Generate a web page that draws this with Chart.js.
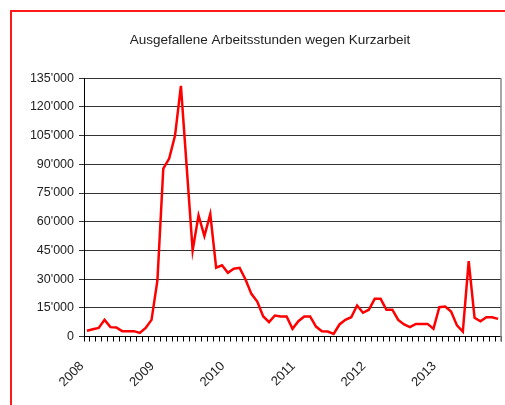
<!DOCTYPE html>
<html>
<head>
<meta charset="utf-8">
<script src="https://cdn.jsdelivr.net/npm/chart.js@4"></script>
<style>
  body { margin: 0; background: #fff; }
  #frame { position: absolute; left: 10px; top: 10px; width: 520px; height: 420px;
           border-left: 2px solid #ff1a1a; border-top: 2px solid #ff1a1a; }
  #kurz { position: absolute; left: 0; top: 0; }
</style>
</head>
<body>
<div id="frame"></div>
<canvas id="kurz" width="505" height="405"></canvas>
<script>
// Ausgefallene Arbeitsstunden, monatlich ab Jan 2008
const years = ['2008', '2009', '2010', '2011', '2012', '2013'];
const yTicks = [0, 15000, 30000, 45000, 60000, 75000, 90000, 105000, 120000, 135000];
const stunden = [
    3000, 3800, 4500, 8700, 4900, 4700, 2800, 2800, 2800, 1900, 4500, 8700,
    29300, 87700, 93000, 105000, 131000, 88000, 45000, 63300, 52500, 64000, 36000, 37200,
    33300, 35400, 35900, 29800, 22300, 18300, 10600, 7500, 11000, 10500, 10500, 4000,
    8000, 10500, 10500, 5200, 2800, 2600, 1400, 6300, 8700, 10100, 16200, 12400,
    14000, 19700, 19700, 14000, 14000, 8700, 6300, 4900, 6600, 6600, 6600, 4000,
    15300, 15700, 13100, 5800, 2600, 39400, 9800, 8000, 10100, 10100, 9200
];

var monate = [];
for (let i = 0; i < stunden.length; i++) {
    monate.push(years[Math.floor(i / 12)] + '-' + (i % 12 + 1));
}

function apostroph(n) { // 135000 -> 135'000
    return n.toString().replace(/(\d)(?=(\d{3})+$)/g, "$1'");
}

const rightBorder = {
    id: 'rightBorder',
    afterDraw(chart) {
        const a = chart.chartArea;
        const c = chart.ctx;
        c.save();
        c.strokeStyle = '#888';
        c.lineWidth = 1.5;
        c.beginPath();
        c.moveTo(a.right, a.top);
        c.lineTo(a.right, a.bottom + 5);
        c.stroke();
        c.restore();
    }
};

Chart.defaults.font.family = "'Liberation Sans', Arial, sans-serif";
Chart.defaults.color = '#222';

var ctx = document.getElementById('kurz').getContext('2d');
var kurzChart = new Chart(ctx, {
    type: 'line',
    data: {
        labels: monate,
        datasets: [{
            data: stunden,
            borderColor: '#ff0000',
            borderWidth: 2.5,
            pointRadius: 0,
            tension: 0,
            fill: false
        }]
    },
    options: {
        responsive: false,
        devicePixelRatio: 1,
        animation: false,
        // rechts negativ, damit der Titel wie im Original etwas weiter rechts sitzt
        layout: { padding: { left: 30, right: -5, top: 0, bottom: -2 } },
        plugins: {
            legend: { display: false },
            tooltip: { enabled: false },
            title: {
                display: true,
                text: 'Ausgefallene Arbeitsstunden wegen Kurzarbeit',
                font: { size: 13.5, weight: 'normal' },
                color: '#222',
                padding: { top: 32, bottom: 30 }
            }
        },
        scales: {
            x: {
                offset: true,
                afterFit: function (axis) { axis.paddingRight = 4; axis.paddingLeft = 0; },
                grid: { offset: true, drawOnChartArea: false, tickLength: 5, color: '#000' },
                border: { color: '#000', width: 1 },
                ticks: {
                    autoSkip: false,
                    maxRotation: 45,
                    minRotation: 45,
                    labelOffset: -5,
                    padding: 17,
                    font: { size: 13 },
                    callback: function (v, i) { return i % 12 === 0 ? years[i / 12] : ''; }
                }
            },
            y: {
                min: 0,
                max: 135000,
                afterBuildTicks: function (axis) { axis.ticks = yTicks.map(v => ({ value: v })); },
                afterFit: function (axis) { axis.width = 54; },
                grid: { color: '#333', tickLength: 5 },
                border: { color: '#000', width: 1 },
                ticks: {
                    padding: 5,
                    font: { size: 12.5 },
                    callback: function (v) { return apostroph(v); }
                }
            }
        }
    },
    plugins: [rightBorder]
});
</script>
</body>
</html>
